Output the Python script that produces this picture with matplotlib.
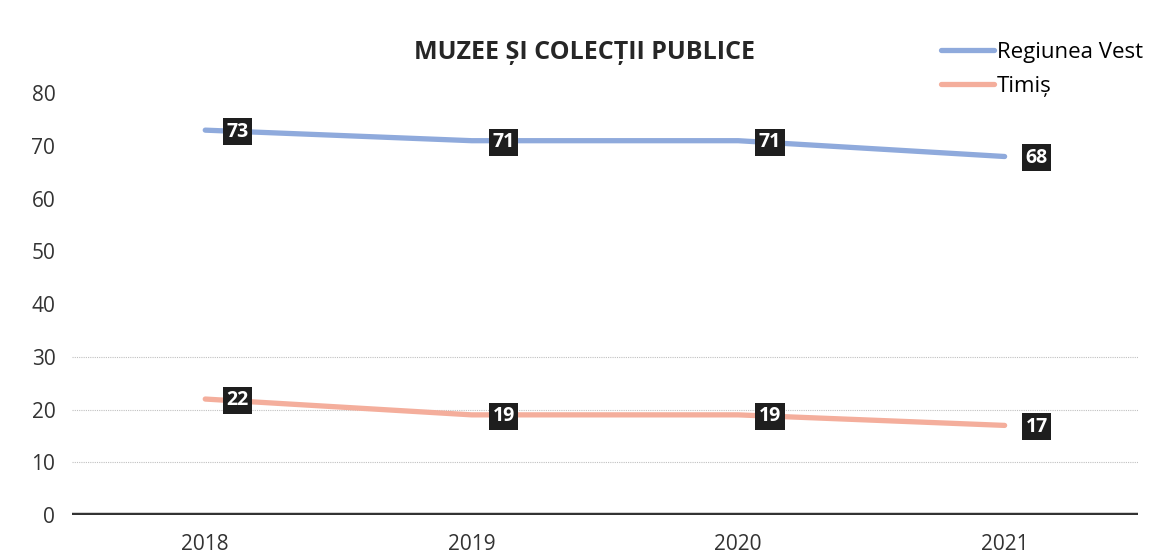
import matplotlib.pyplot as plt
import numpy as np

plt.rcParams['font.family'] = ['Open Sans', 'DejaVu Sans']

years = ['2018', '2019', '2020', '2021']
regiunea_vest = [73, 71, 71, 68]
timis = [22, 19, 19, 17]
yticks = [0, 10, 20, 30, 40, 50, 60, 70, 80]

blue = '#8faadc'
salmon = '#f4ae9c'

fig = plt.figure(figsize=(11.56, 5.55), dpi=100)
ax = fig.add_axes([0.0623, 0.072, 0.922, 0.760])
x = np.arange(len(years))

# faint scanned gridlines
for g in (10, 20, 30):
    ax.axhline(g, color='#c0c0c0', lw=0.8, ls=(0, (1, 1)), zorder=0)
ax.axhline(0, color='#333333', lw=3.2, zorder=1)

ax.plot(x, regiunea_vest, color=blue, lw=3.8, solid_capstyle='round', label='Regiunea Vest', zorder=2)
ax.plot(x, timis, color=salmon, lw=3.8, solid_capstyle='round', label='Timiș', zorder=2)

for series in (regiunea_vest, timis):
    for xi, v in zip(x, series):
        ax.annotate(str(v), (xi, v), xytext=(23, -1), textcoords='offset points',
                    ha='center', va='center', fontsize=14, fontweight='bold', color='white',
                    bbox=dict(boxstyle='square,pad=0.18', fc='#1e1e1e', ec='none'), zorder=3)

ax.set_xlim(-0.5, 3.5)
ax.set_ylim(0, 80)
ax.set_xticks(x)
ax.set_xticklabels(years)
ax.set_yticks(yticks)
ax.tick_params(length=0, labelsize=15, colors='#333333')
ax.tick_params(axis='x', pad=14)
ax.tick_params(axis='y', pad=12)
for s in ax.spines.values():
    s.set_visible(False)

fig.text(0.506, 0.905, 'MUZEE ȘI COLECȚII PUBLICE', ha='center', va='center',
         fontsize=18, fontweight='bold', color='#262626')

fig.legend(*ax.get_legend_handles_labels(), loc='upper left', bbox_to_anchor=(0.814, 0.925),
           frameon=False, fontsize=16, handlelength=2.4, handletextpad=0.1,
           labelspacing=0.6, borderaxespad=0, borderpad=0)

fig.savefig('out.png', dpi=100, facecolor='white')
